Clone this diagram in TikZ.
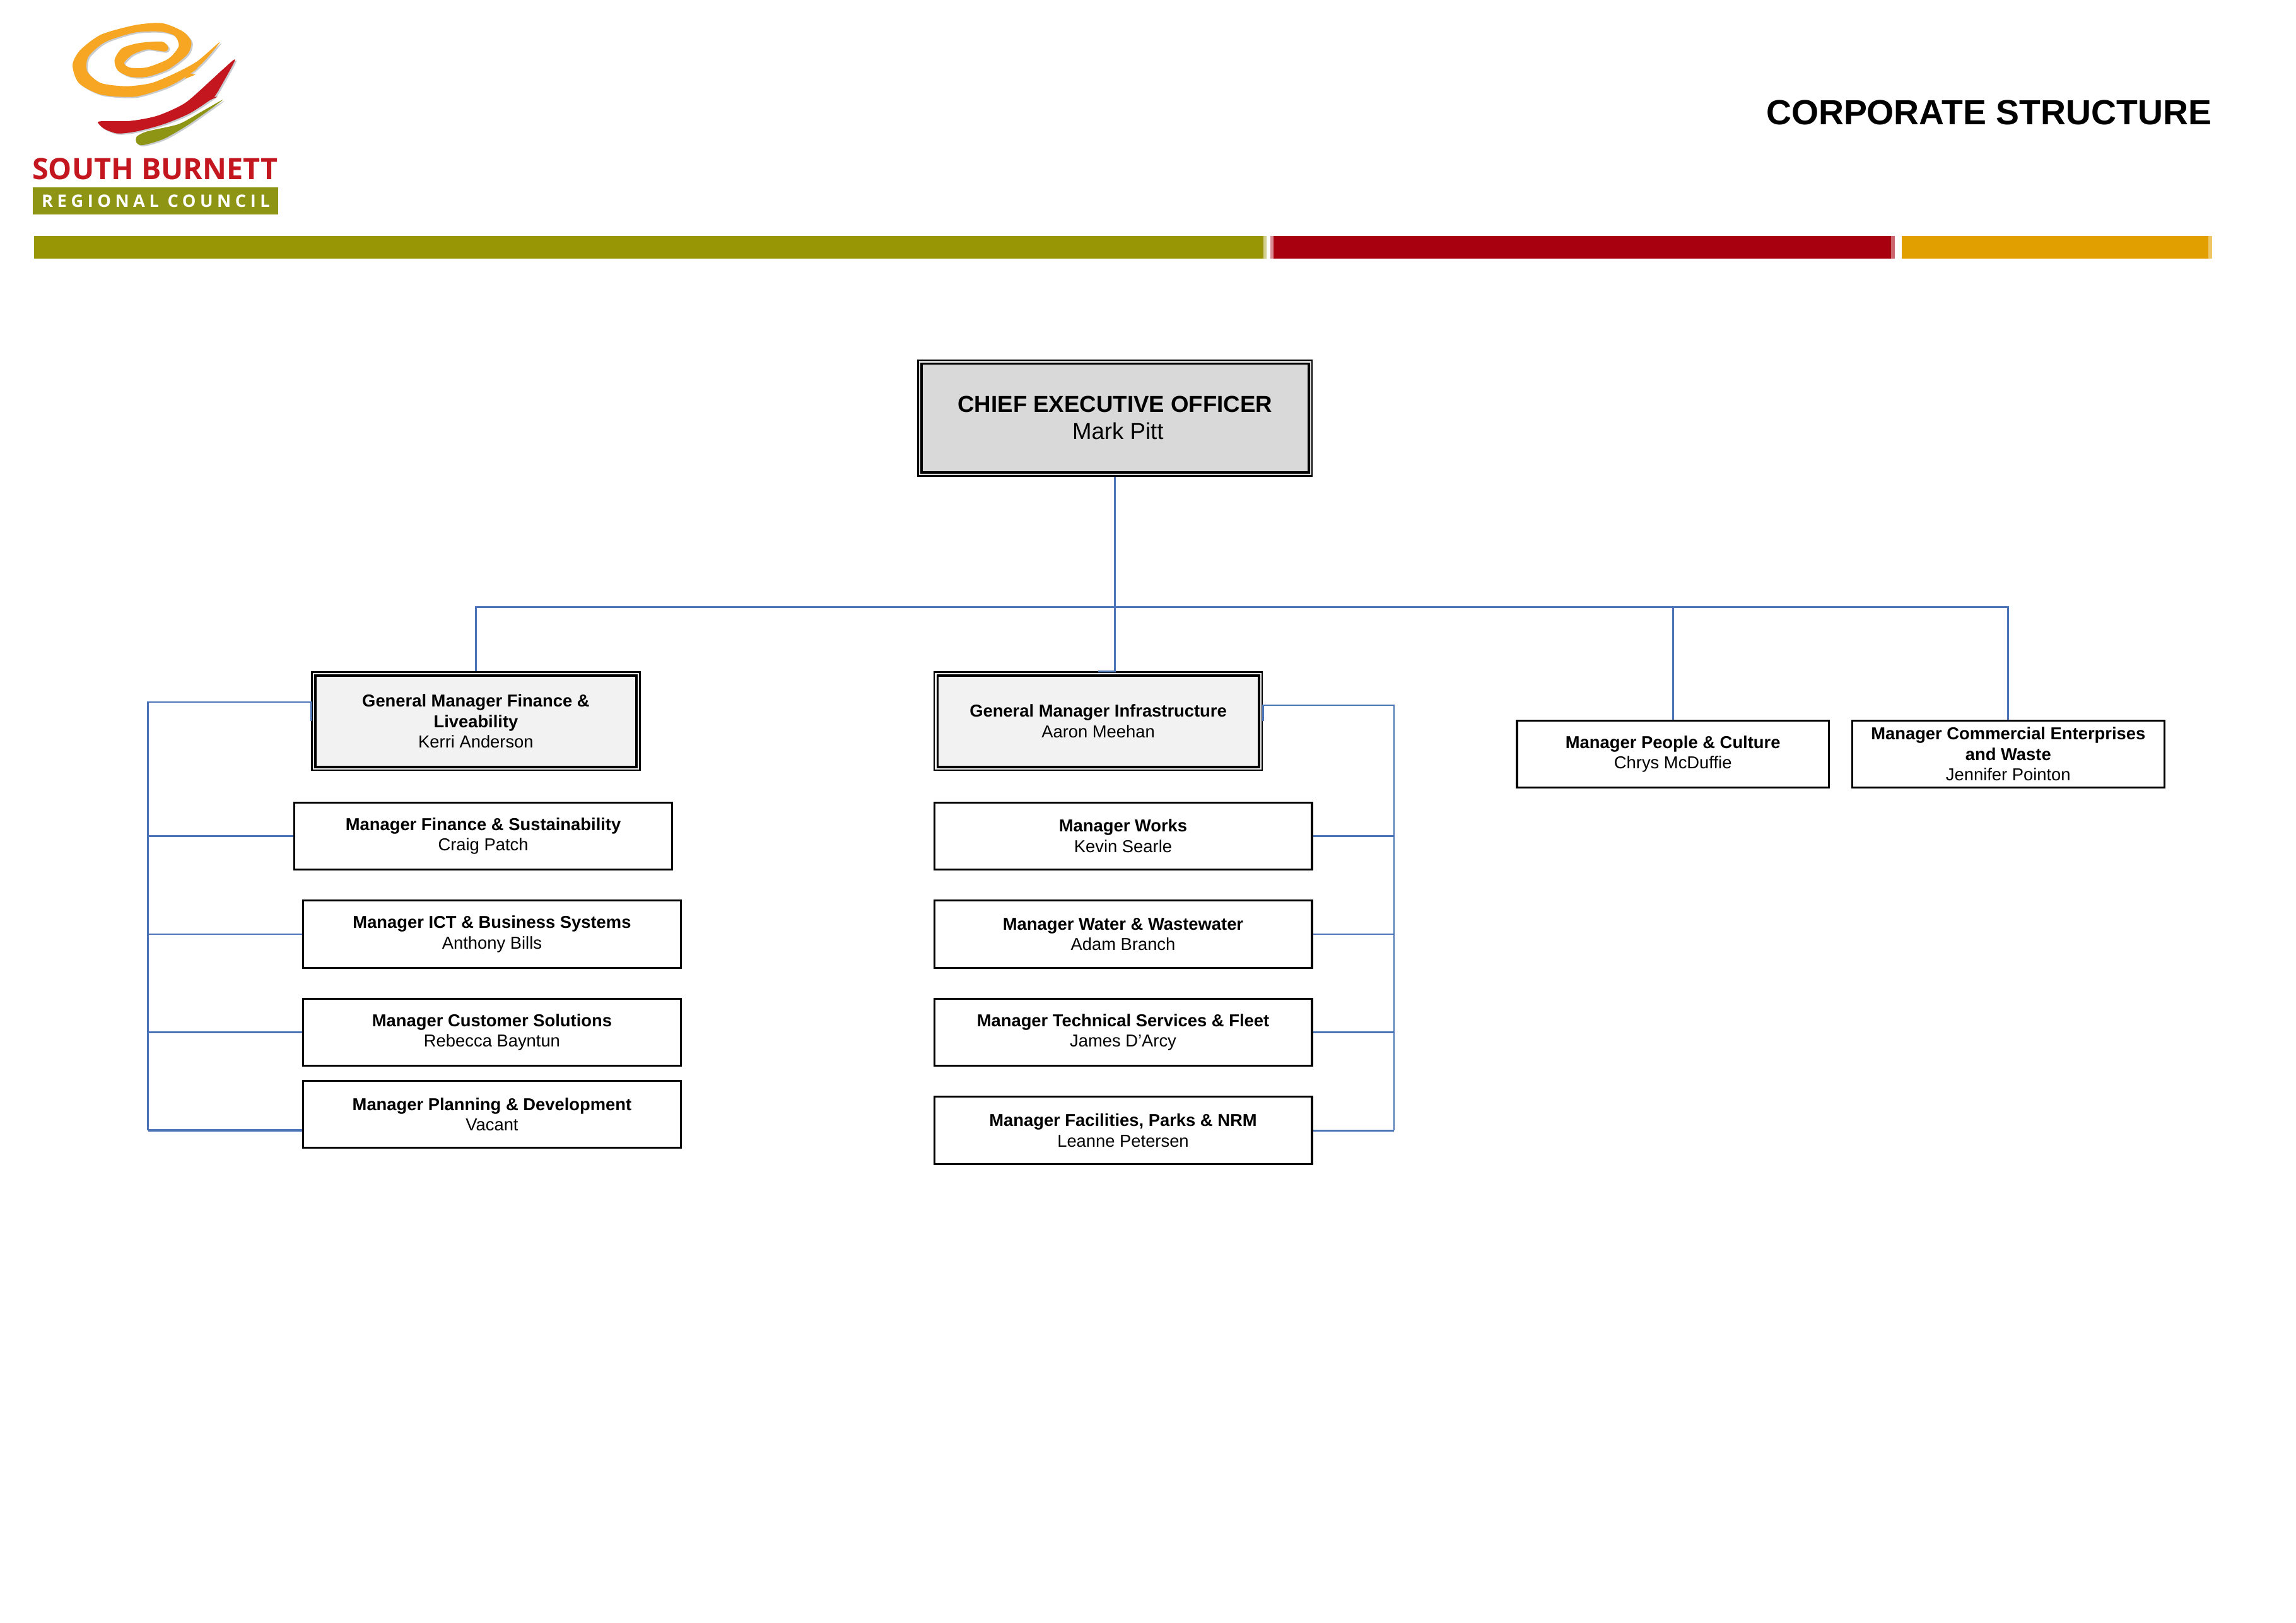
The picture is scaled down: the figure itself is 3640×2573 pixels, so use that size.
\documentclass[tikz,border=0pt]{standalone}
\usepackage{fontspec}
\setmainfont{Liberation Sans}
\newfontfamily\logofont[LetterSpace=0]{Open Sans}
\newfontfamily\logospaced[LetterSpace=24]{Open Sans}
\definecolor{conn}{HTML}{4A74B5}
\definecolor{olivebar}{HTML}{999605}
\definecolor{redbar}{HTML}{A8000F}
\definecolor{orangebar}{HTML}{E2A000}
\definecolor{logored}{HTML}{C4161E}
\definecolor{logoolive}{HTML}{8E9413}
\definecolor{logoorange}{HTML}{F6A623}
\definecolor{logoshadow}{HTML}{C8CCD0}
\definecolor{gmfill}{HTML}{F2F2F2}
\definecolor{ceofill}{HTML}{D9D9D9}
\tikzset{
  x=0.2313pt, y=-0.2313pt,
  orgbase/.style={draw=black, align=center, inner sep=0pt, font=\fontsize{6.33}{7.55}\selectfont, text=black},
  mgrbox/.style={orgbase, line width=0.7pt, fill=white},
  gmbox/.style={orgbase, line width=0.5pt, fill=gmfill},
  ceobox/.style={orgbase, line width=0.5pt, fill=ceofill, font=\fontsize{8.47}{10}\selectfont},
  innerline/.style={draw=black, line width=0.9pt},
  wire/.style={draw=conn, line width=0.65pt},
  wirethick/.style={draw=conn, line width=0.85pt},
}
% name, style, L, R, T, B (in units of 3640/1568 px), text
\newcommand{\orgnode}[7]{%
  \node[#2, minimum width={((#4)-(#3))*2.3214*0.2313pt}, minimum height={((#6)-(#5))*2.3214*0.2313pt}]
    (#1) at ({((#3)+(#4))/2*2.3214},{((#5)+(#6))/2*2.3214}) {#7};}
\newcommand{\innerrule}[1]{\draw[innerline] ([shift={(6.5,6.5)}]#1.north west) rectangle ([shift={(-6.5,-6.5)}]#1.south east);}
\begin{document}
\begin{tikzpicture}
\useasboundingbox (0,0) rectangle (3640,2573);
\fill[white] (0,0) rectangle (3640,2573);

% logo
\begin{scope}[x=0.0771pt, y=-0.0771pt]
  \def\orangepts{(1045,200)(990,270)(930,330)(860,380)(780,420)(640,460)(480,450)(375,395)(345,310)(380,240)(480,165)(640,120)(770,110)(870,150)(910,200)(890,260)(800,330)(700,365)(620,365)(560,335)(545,285)(580,230)(660,205)(770,198)(800,225)(785,245)(700,235)(630,260)(590,300)(620,322)(700,320)(800,280)(850,220)(830,170)(760,150)(640,155)(500,200)(420,270)(415,340)(480,395)(600,410)(720,395)(840,345)(940,290)}
  \def\redpts{(1118,285)(1060,330)(1000,385)(880,490)(750,550)(620,575)(475,577)(472,592)(500,615)(560,635)(650,625)(780,590)(900,540)(1000,475)(1030,445)}
  \def\greenpts{(1060,475)(960,530)(850,590)(700,625)(650,650)(650,680)(680,690)(780,660)(900,590)}
  \begin{scope}[shift={(7,6)}]
    \fill[logoshadow] plot[smooth cycle, tension=0.45] coordinates {\orangepts};
    \fill[logoshadow] plot[smooth cycle, tension=0.45] coordinates {\redpts};
    \fill[logoshadow] plot[smooth cycle, tension=0.45] coordinates {\greenpts};
  \end{scope}
  \fill[logoorange] plot[smooth cycle, tension=0.45] coordinates {\orangepts};
  \fill[logoolive] plot[smooth cycle, tension=0.45] coordinates {\greenpts};
  \fill[logored] plot[smooth cycle, tension=0.45] coordinates {\redpts};
  \fill[logored] (1010,430) -- (1035,405) -- (1015,440) -- (1040,430) -- (1010,462) -- (1035,460) -- (990,480) -- cycle;
  \fill[logoorange] (900,330) -- (940,325) -- (905,350) -- (930,355) -- (880,375) -- cycle;
\end{scope}
\node[anchor=base, text=logored, inner sep=0pt, font=\logofont\bfseries\fontsize{10.8}{13}\selectfont] (logoname) at (246,285) {SOUTH BURNETT};
\fill[logoolive] (52,297) rectangle (441,340);
\node[anchor=base, text=white, inner sep=0pt, font=\logospaced\bfseries\fontsize{6.3}{8}\selectfont] (logosub) at (247,329) {REGIONAL COUNCIL};

% title
\node[anchor=base east, inner sep=0pt, font=\bfseries\fontsize{12.8}{15}\selectfont] (title) at (3507,198) {CORPORATE STRUCTURE};

% bar
\fill[olivebar!45] (2003,374) rectangle (2008,410);
\fill[olivebar] (54,374) rectangle (2003,410);
\fill[redbar!45] (2014,374) rectangle (2020,410);
\fill[redbar!60] (2997,374) rectangle (3004,410);
\fill[redbar] (2019,374) rectangle (2998,410);
\fill[orangebar!60] (3501,374) rectangle (3507,410);
\fill[orangebar] (3015,374) rectangle (3501,410);

% boxes
\orgnode{ceo}{ceobox}{627}{896}{246}{325}{\textbf{CHIEF EXECUTIVE OFFICER}\\\hspace*{2.1pt}Mark Pitt}
\orgnode{gmf}{gmbox}{213}{437}{459}{526}{\textbf{General Manager Finance \&}\\\textbf{Liveability}\\Kerri Anderson}
\orgnode{gmi}{gmbox}{638}{862}{459}{526}{\textbf{General Manager Infrastructure}\\Aaron Meehan}
\orgnode{mpc}{mgrbox}{1036}{1249}{492}{538}{\textbf{Manager People \& Culture}\\Chrys McDuffie}
\orgnode{mce}{mgrbox}{1265}{1478}{492}{538}{\textbf{Manager Commercial Enterprises}\\\textbf{and Waste}\\Jennifer Pointon}
\orgnode{mfs}{mgrbox}{201}{459}{548}{594}{\textbf{Manager Finance \& Sustainability}\\Craig Patch}
\orgnode{mict}{mgrbox}{207}{465}{615}{661}{\textbf{Manager ICT \& Business Systems}\\Anthony Bills}
\orgnode{mcs}{mgrbox}{207}{465}{682}{728}{\textbf{Manager Customer Solutions}\\Rebecca Bayntun}
\orgnode{mpd}{mgrbox}{207}{465}{738}{784}{\textbf{Manager Planning \& Development}\\Vacant}
\orgnode{mw}{mgrbox}{638}{896}{548}{594}{\textbf{Manager Works}\\Kevin Searle}
\orgnode{mww}{mgrbox}{638}{896}{615}{661}{\textbf{Manager Water \& Wastewater}\\Adam Branch}
\orgnode{mts}{mgrbox}{638}{896}{682}{728}{\textbf{Manager Technical Services \& Fleet}\\James D'Arcy}
\orgnode{mfp}{mgrbox}{638}{896}{749}{795}{\textbf{Manager Facilities, Parks \& NRM}\\Leanne Petersen}
\innerrule{ceo}
\innerrule{gmf}
\innerrule{gmi}

% connectors
\coordinate (hub) at ([yshift=-0.2313*207pt]ceo.south);
\coordinate (lefttop) at (234.5,1113);
\coordinate (righttop) at (2210,1118);
\coordinate (mpdtap) at ([yshift=-0.2313*25.5pt]mpd.west);
\draw[wire] (ceo.south) -- (ceo.south |- gmi.north) -- (gmi.north);
\draw[wire] (gmf.north) |- (hub);
\draw[wire] (mce.north) |- (hub);
\draw[wire] (mpc.north) -- (mpc.north |- hub);

\draw[wire] (gmf.west) -- (gmf.west |- lefttop) -- (lefttop) -- (lefttop |- mpdtap);
\draw[wire] (mfs.west) -- (lefttop |- mfs.west);
\draw[wire] (mict.west) -- (lefttop |- mict.west);
\draw[wire] (mcs.west) -- (lefttop |- mcs.west);
\draw[wirethick] (mpdtap) -- (lefttop |- mpdtap);

\draw[wire] (gmi.east) -- (gmi.east |- righttop) -- (righttop) -- (righttop |- mfp.east);
\draw[wire] (mw.east) -- (righttop |- mw.east);
\draw[wire] (mww.east) -- (righttop |- mww.east);
\draw[wirethick] (mts.east) -- (righttop |- mts.east);
\draw[wire] (mfp.east) -- (righttop |- mfp.east);
\end{tikzpicture}
\end{document}
